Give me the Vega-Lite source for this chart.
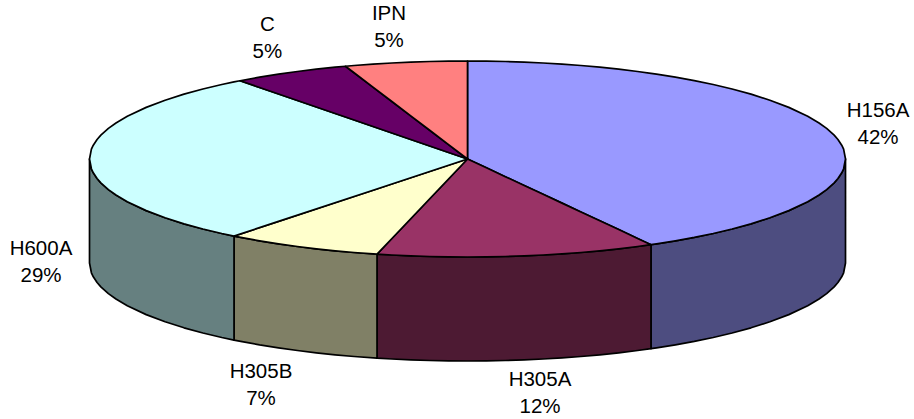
{"$schema":"https://vega.github.io/schema/vega-lite/v6.json","width":914,"height":419,"padding":0,"autosize":"none","background":"white","view":{"stroke":null},"config":{"font":"Liberation Sans"},
"layer":[
{"data":{"values":[
{"s":"H156A side","x":0.4854,"y":-0.8743,"b":-1.9355},{"s":"H156A side","x":0.5,"y":-0.86603,"b":-1.9272},{"s":"H156A side","x":0.55,"y":-0.83516,"b":-1.8964},{"s":"H156A side","x":0.6,"y":-0.8,"b":-1.8612},{"s":"H156A side","x":0.65,"y":-0.75993,"b":-1.8211},{"s":"H156A side","x":0.7,"y":-0.71414,"b":-1.7753},{"s":"H156A side","x":0.75,"y":-0.66144,"b":-1.7226},{"s":"H156A side","x":0.8,"y":-0.6,"b":-1.6612},{"s":"H156A side","x":0.85,"y":-0.52678,"b":-1.588},{"s":"H156A side","x":0.9,"y":-0.43589,"b":-1.4971},{"s":"H156A side","x":0.93,"y":-0.36756,"b":-1.4288},{"s":"H156A side","x":0.95,"y":-0.31225,"b":-1.3735},{"s":"H156A side","x":0.97,"y":-0.2431,"b":-1.3043},{"s":"H156A side","x":0.98,"y":-0.199,"b":-1.2602},{"s":"H156A side","x":0.99,"y":-0.14107,"b":-1.2023},{"s":"H156A side","x":0.995,"y":-0.09987,"b":-1.1611},{"s":"H156A side","x":1,"y":0,"b":-1.0612},
{"s":"H305A side","x":-0.2394,"y":-0.9709,"b":-2.0321},{"s":"H305A side","x":-0.2,"y":-0.9798,"b":-2.041},{"s":"H305A side","x":-0.15,"y":-0.98869,"b":-2.0499},{"s":"H305A side","x":-0.1,"y":-0.99499,"b":-2.0562},{"s":"H305A side","x":-0.05,"y":-0.99875,"b":-2.06},{"s":"H305A side","x":0,"y":-1,"b":-2.0612},{"s":"H305A side","x":0.05,"y":-0.99875,"b":-2.06},{"s":"H305A side","x":0.1,"y":-0.99499,"b":-2.0562},{"s":"H305A side","x":0.15,"y":-0.98869,"b":-2.0499},{"s":"H305A side","x":0.2,"y":-0.9798,"b":-2.041},{"s":"H305A side","x":0.25,"y":-0.96825,"b":-2.0295},{"s":"H305A side","x":0.3,"y":-0.95394,"b":-2.0151},{"s":"H305A side","x":0.35,"y":-0.93675,"b":-1.998},{"s":"H305A side","x":0.4,"y":-0.91652,"b":-1.9777},{"s":"H305A side","x":0.45,"y":-0.89303,"b":-1.9542},{"s":"H305A side","x":0.4854,"y":-0.8743,"b":-1.9355},
{"s":"H305B side","x":-0.6177,"y":-0.7864,"b":-1.8476},{"s":"H305B side","x":-0.6,"y":-0.8,"b":-1.8612},{"s":"H305B side","x":-0.55,"y":-0.83516,"b":-1.8964},{"s":"H305B side","x":-0.5,"y":-0.86603,"b":-1.9272},{"s":"H305B side","x":-0.45,"y":-0.89303,"b":-1.9542},{"s":"H305B side","x":-0.4,"y":-0.91652,"b":-1.9777},{"s":"H305B side","x":-0.35,"y":-0.93675,"b":-1.998},{"s":"H305B side","x":-0.3,"y":-0.95394,"b":-2.0151},{"s":"H305B side","x":-0.2394,"y":-0.9709,"b":-2.0321},
{"s":"H600A side","x":-1,"y":0,"b":-1.0612},{"s":"H600A side","x":-0.995,"y":-0.09987,"b":-1.1611},{"s":"H600A side","x":-0.99,"y":-0.14107,"b":-1.2023},{"s":"H600A side","x":-0.98,"y":-0.199,"b":-1.2602},{"s":"H600A side","x":-0.97,"y":-0.2431,"b":-1.3043},{"s":"H600A side","x":-0.95,"y":-0.31225,"b":-1.3735},{"s":"H600A side","x":-0.93,"y":-0.36756,"b":-1.4288},{"s":"H600A side","x":-0.9,"y":-0.43589,"b":-1.4971},{"s":"H600A side","x":-0.85,"y":-0.52678,"b":-1.588},{"s":"H600A side","x":-0.8,"y":-0.6,"b":-1.6612},{"s":"H600A side","x":-0.75,"y":-0.66144,"b":-1.7226},{"s":"H600A side","x":-0.7,"y":-0.71414,"b":-1.7753},{"s":"H600A side","x":-0.65,"y":-0.75993,"b":-1.8211},{"s":"H600A side","x":-0.6177,"y":-0.7864,"b":-1.8476},
{"s":"H156A","x":0,"y":1,"b":0},{"s":"H156A","x":0.05,"y":0.99875,"b":-0.09006},{"s":"H156A","x":0.1,"y":0.99499,"b":-0.18012},{"s":"H156A","x":0.15,"y":0.98869,"b":-0.27018},{"s":"H156A","x":0.2,"y":0.9798,"b":-0.36024},{"s":"H156A","x":0.25,"y":0.96825,"b":-0.4503},{"s":"H156A","x":0.3,"y":0.95394,"b":-0.54036},{"s":"H156A","x":0.35,"y":0.93675,"b":-0.63042},{"s":"H156A","x":0.4,"y":0.91652,"b":-0.72048},{"s":"H156A","x":0.45,"y":0.89303,"b":-0.81054},{"s":"H156A","x":0.4854,"y":0.8743,"b":-0.8743},{"s":"H156A","x":0.5,"y":0.86603,"b":-0.86603},{"s":"H156A","x":0.55,"y":0.83516,"b":-0.83516},{"s":"H156A","x":0.6,"y":0.8,"b":-0.8},{"s":"H156A","x":0.65,"y":0.75993,"b":-0.75993},{"s":"H156A","x":0.7,"y":0.71414,"b":-0.71414},{"s":"H156A","x":0.75,"y":0.66144,"b":-0.66144},{"s":"H156A","x":0.8,"y":0.6,"b":-0.6},{"s":"H156A","x":0.85,"y":0.52678,"b":-0.52678},{"s":"H156A","x":0.9,"y":0.43589,"b":-0.43589},{"s":"H156A","x":0.93,"y":0.36756,"b":-0.36756},{"s":"H156A","x":0.95,"y":0.31225,"b":-0.31225},{"s":"H156A","x":0.97,"y":0.2431,"b":-0.2431},{"s":"H156A","x":0.98,"y":0.199,"b":-0.199},{"s":"H156A","x":0.99,"y":0.14107,"b":-0.14107},{"s":"H156A","x":0.995,"y":0.09987,"b":-0.09987},{"s":"H156A","x":1,"y":0,"b":0},
{"s":"H305A","x":-0.2394,"y":-0.9709,"b":-0.9709},{"s":"H305A","x":-0.2,"y":-0.8111,"b":-0.9798},{"s":"H305A","x":-0.15,"y":-0.6083,"b":-0.98869},{"s":"H305A","x":-0.1,"y":-0.4056,"b":-0.99499},{"s":"H305A","x":-0.05,"y":-0.2028,"b":-0.99875},{"s":"H305A","x":0,"y":0,"b":-1},{"s":"H305A","x":0.05,"y":-0.09006,"b":-0.99875},{"s":"H305A","x":0.1,"y":-0.18012,"b":-0.99499},{"s":"H305A","x":0.15,"y":-0.27018,"b":-0.98869},{"s":"H305A","x":0.2,"y":-0.36024,"b":-0.9798},{"s":"H305A","x":0.25,"y":-0.4503,"b":-0.96825},{"s":"H305A","x":0.3,"y":-0.54036,"b":-0.95394},{"s":"H305A","x":0.35,"y":-0.63042,"b":-0.93675},{"s":"H305A","x":0.4,"y":-0.72048,"b":-0.91652},{"s":"H305A","x":0.45,"y":-0.81054,"b":-0.89303},{"s":"H305A","x":0.4854,"y":-0.8743,"b":-0.8743},
{"s":"H305B","x":-0.6177,"y":-0.7864,"b":-0.7864},{"s":"H305B","x":-0.6,"y":-0.7639,"b":-0.8},{"s":"H305B","x":-0.55,"y":-0.7002,"b":-0.83516},{"s":"H305B","x":-0.5,"y":-0.6366,"b":-0.86603},{"s":"H305B","x":-0.45,"y":-0.5729,"b":-0.89303},{"s":"H305B","x":-0.4,"y":-0.5092,"b":-0.91652},{"s":"H305B","x":-0.35,"y":-0.4456,"b":-0.93675},{"s":"H305B","x":-0.3,"y":-0.3819,"b":-0.95394},{"s":"H305B","x":-0.2394,"y":-0.3048,"b":-0.9709},{"s":"H305B","x":-0.2,"y":-0.2546,"b":-0.8111},{"s":"H305B","x":-0.1,"y":-0.1273,"b":-0.4056},{"s":"H305B","x":0,"y":0,"b":0},
{"s":"H600A","x":-1,"y":0,"b":0},{"s":"H600A","x":-0.995,"y":0.09987,"b":-0.09987},{"s":"H600A","x":-0.99,"y":0.14107,"b":-0.14107},{"s":"H600A","x":-0.98,"y":0.199,"b":-0.199},{"s":"H600A","x":-0.97,"y":0.2431,"b":-0.2431},{"s":"H600A","x":-0.95,"y":0.31225,"b":-0.31225},{"s":"H600A","x":-0.93,"y":0.36756,"b":-0.36756},{"s":"H600A","x":-0.9,"y":0.43589,"b":-0.43589},{"s":"H600A","x":-0.85,"y":0.52678,"b":-0.52678},{"s":"H600A","x":-0.8,"y":0.6,"b":-0.6},{"s":"H600A","x":-0.75,"y":0.66144,"b":-0.66144},{"s":"H600A","x":-0.7,"y":0.71414,"b":-0.71414},{"s":"H600A","x":-0.65,"y":0.75993,"b":-0.75993},{"s":"H600A","x":-0.6177,"y":0.7864,"b":-0.7864},{"s":"H600A","x":-0.6018,"y":0.7986,"b":-0.7662},{"s":"H600A","x":-0.5,"y":0.6635,"b":-0.6366},{"s":"H600A","x":-0.25,"y":0.3318,"b":-0.3183},{"s":"H600A","x":0,"y":0,"b":0},
{"s":"C","x":-0.6018,"y":0.7986,"b":0.7986},{"s":"C","x":-0.55,"y":0.83516,"b":0.7299},{"s":"C","x":-0.5,"y":0.86603,"b":0.6635},{"s":"C","x":-0.45,"y":0.89303,"b":0.5972},{"s":"C","x":-0.4,"y":0.91652,"b":0.5308},{"s":"C","x":-0.35,"y":0.93675,"b":0.4645},{"s":"C","x":-0.3228,"y":0.9465,"b":0.4284},{"s":"C","x":-0.2,"y":0.5864,"b":0.2654},{"s":"C","x":0,"y":0,"b":0},
{"s":"IPN","x":-0.3228,"y":0.9465,"b":0.9465},{"s":"IPN","x":-0.3,"y":0.95394,"b":0.8797},{"s":"IPN","x":-0.25,"y":0.96825,"b":0.7331},{"s":"IPN","x":-0.2,"y":0.9798,"b":0.5864},{"s":"IPN","x":-0.15,"y":0.98869,"b":0.4398},{"s":"IPN","x":-0.1,"y":0.99499,"b":0.2932},{"s":"IPN","x":-0.05,"y":0.99875,"b":0.1466},{"s":"IPN","x":0,"y":1,"b":0}
]},
"mark":{"type":"area","stroke":"black","strokeWidth":1.7,"strokeJoin":"round","opacity":1,"fillOpacity":1},
"encoding":{
"x":{"field":"x","type":"quantitative","axis":null,"scale":{"domain":[-1.2368,1.1812],"nice":false,"zero":false}},
"y":{"field":"y","type":"quantitative","axis":null,"stack":null,"scale":{"domain":[-2.6531,1.6224],"nice":false,"zero":false}},
"y2":{"field":"b"},
"fill":{"field":"s","type":"nominal","legend":null,"scale":{"domain":["H156A","H305A","H305B","H600A","C","IPN","H156A side","H305A side","H305B side","H600A side"],"range":["#9999ff","#993366","#ffffcc","#ccffff","#660066","#ff8080","#4d4d80","#4d1a33","#808066","#668080"]}}
}},
{"data":{"values":[
{"t":"H156A\n42%","x":1.086,"y":0.3622},
{"t":"H305A\n12%","x":0.1918,"y":-2.3827},
{"t":"H305B\n7%","x":-0.5463,"y":-2.301},
{"t":"H600A\n29%","x":-1.1283,"y":-1.051},
{"t":"C\n5%","x":-0.5296,"y":1.2398},
{"t":"IPN\n5%","x":-0.2077,"y":1.3469}
]},
"mark":{"type":"text","font":"Liberation Sans","fontSize":20.5,"lineBreak":"\n","lineHeight":27,"align":"center","baseline":"middle","dy":-12.5,"color":"#000000"},
"encoding":{
"x":{"field":"x","type":"quantitative","axis":null},
"y":{"field":"y","type":"quantitative","axis":null},
"text":{"field":"t"}
}}
]}
